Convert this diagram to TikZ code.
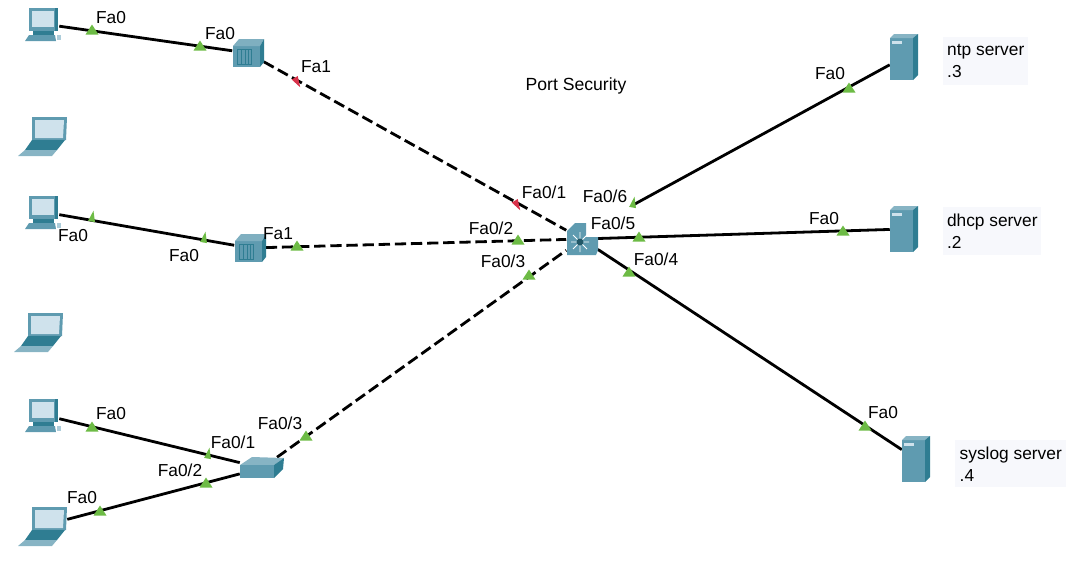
\documentclass[tikz,border=0pt]{standalone}
\usepackage{fontspec}
\setmainfont{Liberation Sans}
\usetikzlibrary{shapes.geometric}

\definecolor{iconmid}{HTML}{5F9BB0}
\definecolor{icondark}{HTML}{2F7D92}
\definecolor{iconlight}{HTML}{CFE2EC}
\definecolor{linkgreen}{HTML}{6DBB45}
\definecolor{linkred}{HTML}{D8324A}
\definecolor{notebg}{HTML}{F7F8FC}

\tikzset{
  devbox/.style={inner sep=0pt,minimum width=#1*0.75pt},
  pcbox/.style={devbox=30,minimum height=33*0.75pt},
  laptopbox/.style={devbox=50,minimum height=40*0.75pt},
  bridgebox/.style={devbox=31,minimum height=28*0.75pt},
  switchbox/.style={devbox=44,minimum height=21*0.75pt},
  serverbox/.style={devbox=28,minimum height=46*0.75pt},
  mlsbox/.style={devbox=31,minimum height=32*0.75pt},
  cable/.style={black,line width=2.1pt},
  wan/.style={black,line width=2.1pt,dash pattern=on 8.5pt off 3.6pt},
  portlabel/.style={font=\fontsize{13}{13}\selectfont,inner sep=0pt,yshift=-0.75pt},
  upmark/.style={isosceles triangle,isosceles triangle stretches,shape border rotate=90,fill=linkgreen,inner sep=0pt,minimum width=13*0.75pt,minimum height=10*0.75pt},
  slimmark/.style={isosceles triangle,isosceles triangle apex angle=35,fill=#1,inner sep=0pt,minimum height=11*0.75pt,minimum width=5*0.75pt},
  notebox/.style={fill=notebg,font=\fontsize{13}{16.5}\selectfont,align=left,inner xsep=1.6pt,inner ysep=2pt,anchor=north west},
  pcicon/.pic={
    \fill[icondark] (-15,-16) rectangle (14,7);
    \fill[iconmid] (-15,-16) rectangle (11,7);
    \fill[iconlight] (-12,-13) rectangle (10,3);
    \fill[icondark] (-11,7) rectangle (10,11);
    \fill[iconmid] (-15,11) -- (11,11) -- (12,17) -- (-19,17) -- cycle;
    \fill[iconlight!70!iconmid] (13,11) rectangle (17,16);
  },
  laptopicon/.pic={
    \fill[iconmid] (-10,-19) -- (25,-19) -- (24,4) -- (-10,4) -- cycle;
    \fill[iconlight] (-7,-16) -- (22,-16) -- (21,2) -- (-7,2) -- cycle;
    \fill[icondark] (-10,4) -- (23,4) -- (15,14) -- (-17,14) -- cycle;
    \fill[iconmid!75!white] (-17,14) -- (15,14) -- (10,20) -- (-24,20) -- cycle;
  },
  bridgeicon/.pic={
    \fill[iconmid] (-15,-7) rectangle (12,14);
    \fill[iconmid!80!white] (-15,-7) -- (-9,-14) -- (16,-14) -- (12,-7) -- cycle;
    \fill[icondark] (12,-7) -- (16,-14) -- (16,9) -- (12,14) -- cycle;
    \draw[icondark,line width=0.5pt] (-11,-4) rectangle (3,11);
    \draw[icondark,line width=0.5pt] (-7,-4) -- (-7,11) (-3,-4) -- (-3,11) (0,-4) -- (0,11);
  },
  switchicon/.pic={
    \fill[iconmid!75!white] (-22,-3) -- (-10,-11) -- (22,-10) -- (12,-3) -- cycle;
    \fill[iconmid] (-22,-3) rectangle (12,10);
    \fill[icondark] (12,-3) -- (22,-10) -- (21,1) -- (12,10) -- cycle;
  },
  servericon/.pic={
    \fill[iconmid] (-14,-19) rectangle (9,23);
    \fill[iconmid!75!white] (-14,-19) -- (-10,-23) -- (14,-23) -- (9,-19) -- cycle;
    \fill[icondark] (9,-19) -- (14,-23) -- (14,18) -- (9,23) -- cycle;
    \fill[iconlight] (-12,-16) rectangle (-2,-13);
  },
  mlsicon/.pic={
    \fill[iconmid] (-15,-8) -- (-7,-16) -- (4,-16) -- (4,-2) -- (16,-2) -- (16,11) -- (14,16) -- (-15,16) -- cycle;
    \draw[white,line width=0.6pt] (-11,3) -- (7,3) (-2,-7) -- (-2,13) (-9,-4) -- (5,10) (-9,10) -- (5,-4);
    \fill[icondark!70!black] (-2,3) circle (3.5);
  },
}

\begin{document}
\begin{tikzpicture}[x=0.75pt,y=-0.75pt]
      \useasboundingbox (0,0) rectangle (1080,561);

      % end devices
      \node[pcbox] (pca) at (44,24) {};
      \node[laptopbox] (laptopa) at (42,136) {};
      \node[pcbox] (pcb) at (44,212) {};
      \node[laptopbox] (laptopb) at (38,332) {};
      \node[pcbox] (pcc) at (44,415) {};
      \node[laptopbox] (laptopc) at (42,526) {};

      % access layer and core
      \node[bridgebox] (bridgea) at (248,53) {};
      \node[bridgebox] (bridgeb) at (250,248) {};
      \node[switchbox] (accesssw) at (262,468) {};
      \node[mlsbox] (coresw) at (582,239) {};

      % servers
      \node[serverbox] (ntpsrv) at (904,57) {};
      \node[serverbox] (dhcpsrv) at (904,229) {};
      \node[serverbox] (syslogsrv) at (916,459) {};
      \coordinate (ntpport) at (633,205);

      \draw[cable] (pca) -- (bridgea);
      \draw[cable] (pcb) -- (bridgeb);
      \draw[cable] (pcc) -- (accesssw);
      \draw[cable] (laptopc) -- (accesssw);
      \draw[wan] (bridgea) -- (coresw);
      \draw[wan] (bridgeb) -- (coresw);
      \draw[wan] (accesssw) -- (coresw);
      \draw[cable] (ntpport) -- (ntpsrv);
      \draw[cable] (coresw) -- (dhcpsrv);
      \draw[cable] (coresw) -- (syslogsrv);

      \pic at (pca) {pcicon};
      \pic at (laptopa) {laptopicon};
      \pic at (pcb) {pcicon};
      \pic at (laptopb) {laptopicon};
      \pic at (pcc) {pcicon};
      \pic at (laptopc) {laptopicon};
      \pic at (bridgea) {bridgeicon};
      \pic at (bridgeb) {bridgeicon};
      \pic at (accesssw) {switchicon};
      \pic at (coresw) {mlsicon};
      \pic at (ntpsrv) {servericon};
      \pic at (dhcpsrv) {servericon};
      \pic at (syslogsrv) {servericon};

      % link lights
      \node[upmark] (lighta) at (92,31) {};
      \node[upmark] (lightb) at (200,47) {};
      \node[slimmark=linkred,rotate=-60] (lightc) at (296,80) {};
      \node[slimmark=linkgreen,rotate=80] (lightd) at (92,219) {};
      \node[slimmark=linkgreen,rotate=80] (lighte) at (204,240) {};
      \node[upmark] (lightf) at (297,247) {};
      \node[upmark] (lightg) at (92,428) {};
      \node[slimmark=linkgreen,rotate=80] (lighth) at (208,456) {};
      \node[upmark] (lighti) at (206,484) {};
      \node[upmark] (lightj) at (100,512) {};
      \node[upmark] (lightk) at (306,437) {};
      \node[slimmark=linkred,rotate=-60] (lightl) at (516,203) {};
      \node[upmark] (lightm) at (518,241) {};
      \node[upmark] (lightn) at (529,276) {};
      \node[slimmark=linkgreen,rotate=80] (lighto) at (633,205) {};
      \node[upmark] (lightp) at (639,238) {};
      \node[upmark] (lightq) at (629,273) {};
      \node[upmark] (lightr) at (849,89) {};
      \node[upmark] (lights) at (843,232) {};
      \node[upmark] (lightt) at (865,427) {};

      % port names
      \node[portlabel] (labela) at (111,17) {Fa0};
      \node[portlabel] (labelb) at (220,33) {Fa0};
      \node[portlabel] (labelc) at (316,66) {Fa1};
      \node[portlabel] (labeld) at (73,235) {Fa0};
      \node[portlabel] (labele) at (184,255) {Fa0};
      \node[portlabel] (labelf) at (278,233) {Fa1};
      \node[portlabel] (labelg) at (111,413) {Fa0};
      \node[portlabel] (labelh) at (233,441) {Fa0/1};
      \node[portlabel] (labeli) at (180,469) {Fa0/2};
      \node[portlabel] (labelj) at (82,497) {Fa0};
      \node[portlabel] (labelk) at (280,422) {Fa0/3};
      \node[portlabel] (labell) at (544,191) {Fa0/1};
      \node[portlabel] (labelm) at (491,227) {Fa0/2};
      \node[portlabel] (labeln) at (503,260) {Fa0/3};
      \node[portlabel] (labelo) at (605,195) {Fa0/6};
      \node[portlabel] (labelp) at (613,222) {Fa0/5};
      \node[portlabel] (labelq) at (656,258) {Fa0/4};
      \node[portlabel] (labelr) at (830,73) {Fa0};
      \node[portlabel] (labels) at (824,218) {Fa0};
      \node[portlabel] (labelt) at (883,412) {Fa0};

      \node[portlabel,font=\fontsize{13.2}{13}\selectfont] (title) at (576,85) {Port Security};
      \node[notebox,minimum width=85*0.75pt,minimum height=48*0.75pt] (ntpnote) at (943,37) {ntp server\\.3};
      \node[notebox,minimum width=98*0.75pt,minimum height=48*0.75pt] (dhcpnote) at (943,207) {dhcp server\\.2};
      \node[notebox,minimum width=111*0.75pt,minimum height=47*0.75pt] (syslognote) at (955,440) {syslog server\\.4};
\end{tikzpicture}
\end{document}
